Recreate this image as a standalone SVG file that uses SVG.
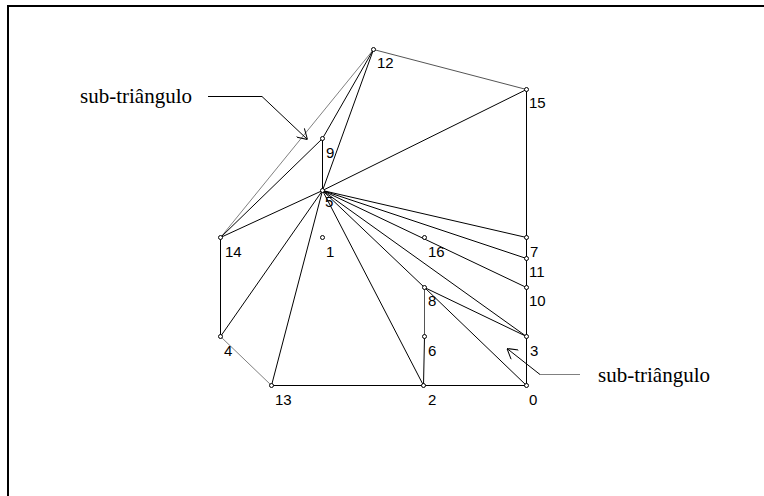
<svg xmlns="http://www.w3.org/2000/svg" width="764" height="496" viewBox="0 0 764 496">
<style>
.e{stroke:#000;stroke-width:1;fill:none}
.g{stroke:#808080;stroke-width:1;fill:none}
.d{stroke:#555;stroke-width:1;fill:none}
.n{fill:#fff;stroke:#000;stroke-width:1}
.l{font-family:"Liberation Sans",Arial,sans-serif;font-size:15px;fill:#000}
.c{font-family:"Liberation Serif","Times New Roman",serif;font-size:21px;fill:#000}
</style>
<defs>
<marker id="ah" viewBox="0 0 12 12" refX="12" refY="6" markerWidth="12" markerHeight="12" markerUnits="userSpaceOnUse" orient="auto">
<path d="M2,0 L12,6 L2,12" fill="none" stroke="#000" stroke-width="1"/>
</marker>
</defs>
<rect width="764" height="496" fill="#fff"/>
<g id="frame">
<line x1="8" y1="6" x2="764" y2="6" stroke="#000" stroke-width="2"/>
<line x1="8" y1="5" x2="8" y2="496" stroke="#000" stroke-width="2"/>
</g>
<g id="connectors">
<line class="d" x1="373.5" y1="49.5" x2="526.5" y2="89.5"/>
<line class="e" x1="526.5" y1="89.5" x2="526.5" y2="385.5"/>
<line class="e" x1="526.5" y1="385.5" x2="271.5" y2="385.5"/>
<line class="g" x1="271.5" y1="385.5" x2="220.5" y2="336.5"/>
<line class="e" x1="220.5" y1="336.5" x2="220.5" y2="237.5"/>
<line class="g" x1="220.5" y1="237.5" x2="373.5" y2="49.5"/>
<line class="e" x1="220.5" y1="237.5" x2="322.5" y2="138.5"/>
<line class="e" x1="322.5" y1="138.5" x2="373.5" y2="49.5"/>
<line class="e" x1="322.5" y1="138.5" x2="322.5" y2="190.5"/>
<line class="e" x1="322.5" y1="190.5" x2="373.5" y2="49.5"/>
<line class="e" x1="322.5" y1="190.5" x2="220.5" y2="237.5"/>
<line class="e" x1="322.5" y1="190.5" x2="220.5" y2="336.5"/>
<line class="e" x1="322.5" y1="190.5" x2="271.5" y2="385.5"/>
<line class="e" x1="322.5" y1="190.5" x2="423.5" y2="385.5"/>
<line class="e" x1="322.5" y1="190.5" x2="424.5" y2="287.5"/>
<line class="e" x1="322.5" y1="190.5" x2="526.5" y2="336.5"/>
<line class="e" x1="322.5" y1="190.5" x2="526.5" y2="287.5"/>
<line class="e" x1="322.5" y1="190.5" x2="526.5" y2="258.5"/>
<line class="e" x1="322.5" y1="190.5" x2="526.5" y2="237.5"/>
<line class="e" x1="322.5" y1="190.5" x2="526.5" y2="89.5"/>
<line class="e" x1="424.5" y1="287.5" x2="526.5" y2="336.5"/>
<line class="e" x1="424.5" y1="287.5" x2="526.5" y2="385.5"/>
<line class="d" x1="424.5" y1="287.5" x2="424.5" y2="336.5"/>
<line class="e" x1="424.5" y1="336.5" x2="423.5" y2="385.5"/>
</g>
<g id="callout-left">
<text class="c" x="80" y="103">sub-triângulo</text>
<polyline class="e" points="208,96.5 262,96.5 307.5,139.5" marker-end="url(#ah)"/>
</g>
<g id="callout-right">
<text class="c" x="598" y="382">sub-triângulo</text>
<line class="g" x1="580" y1="374.5" x2="540" y2="374.5"/>
<line class="e" x1="540" y1="374.5" x2="507" y2="348.5" marker-end="url(#ah)"/>
</g>
<g id="n0"><circle class="n" cx="526.5" cy="385.5" r="2"/><text class="l" x="529" y="405">0</text></g>
<g id="n1"><circle class="n" cx="322.5" cy="237.5" r="2"/><text class="l" x="326" y="257">1</text></g>
<g id="n2"><circle class="n" cx="423.5" cy="385.5" r="2"/><text class="l" x="428" y="405">2</text></g>
<g id="n3"><circle class="n" cx="526.5" cy="336.5" r="2"/><text class="l" x="530" y="356">3</text></g>
<g id="n4"><circle class="n" cx="220.5" cy="336.5" r="2"/><text class="l" x="224" y="356">4</text></g>
<g id="n5"><circle class="n" cx="322.5" cy="190.5" r="2"/><text class="l" x="325" y="207">5</text></g>
<g id="n6"><circle class="n" cx="424.5" cy="336.5" r="2"/><text class="l" x="428" y="356">6</text></g>
<g id="n7"><circle class="n" cx="526.5" cy="237.5" r="2"/><text class="l" x="530" y="257">7</text></g>
<g id="n8"><circle class="n" cx="424.5" cy="287.5" r="2"/><text class="l" x="428" y="306">8</text></g>
<g id="n9"><circle class="n" cx="322.5" cy="138.5" r="2"/><text class="l" x="326" y="158">9</text></g>
<g id="n10"><circle class="n" cx="526.5" cy="287.5" r="2"/><text class="l" x="529" y="306">10</text></g>
<g id="n11"><circle class="n" cx="526.5" cy="258.5" r="2"/><text class="l" x="529" y="277">11</text></g>
<g id="n12"><circle class="n" cx="373.5" cy="49.5" r="2"/><text class="l" x="377" y="68">12</text></g>
<g id="n13"><circle class="n" cx="271.5" cy="385.5" r="2"/><text class="l" x="275" y="405">13</text></g>
<g id="n14"><circle class="n" cx="220.5" cy="237.5" r="2"/><text class="l" x="225" y="257">14</text></g>
<g id="n15"><circle class="n" cx="526.5" cy="89.5" r="2"/><text class="l" x="529" y="108">15</text></g>
<g id="n16"><circle class="n" cx="424.5" cy="237.5" r="2"/><text class="l" x="428" y="257">16</text></g>
</svg>
